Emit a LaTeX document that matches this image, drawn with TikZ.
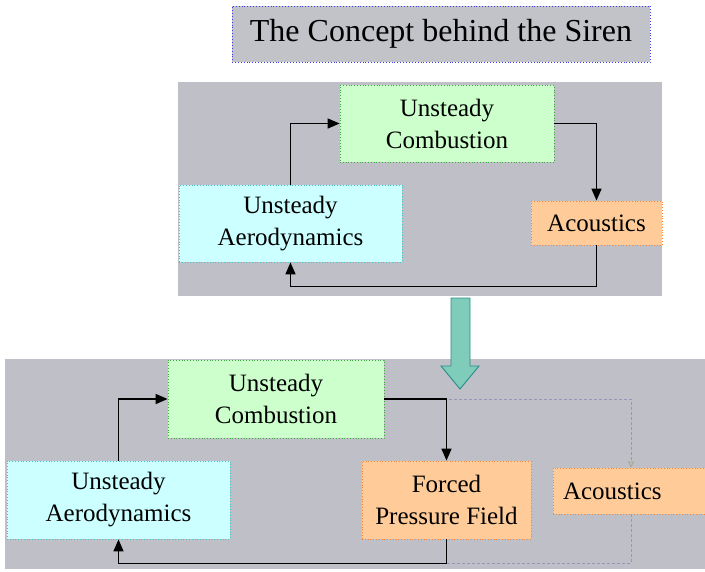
\documentclass[tikz,border=0pt]{standalone}
\usepackage{fontspec}
\setmainfont{Liberation Serif}
\usetikzlibrary{arrows.meta}
\definecolor{panelgray}{RGB}{191,191,199}
\definecolor{titlegray}{RGB}{194,194,201}
\definecolor{titleedge}{RGB}{60,60,240}
\definecolor{ccgreen}{RGB}{204,255,204}
\definecolor{greenedge}{RGB}{60,170,60}
\definecolor{cccyan}{RGB}{204,255,255}
\definecolor{cyanedge}{RGB}{60,200,200}
\definecolor{ccorange}{RGB}{255,204,153}
\definecolor{orangeedge}{RGB}{250,130,50}
\definecolor{dashblue}{RGB}{150,150,185}
\definecolor{tipgray}{RGB}{170,165,140}
\definecolor{arrowfill}{RGB}{128,204,186}
\definecolor{arrowedge}{RGB}{40,140,140}
\begin{document}
\begin{tikzpicture}[x=1pt,y=-1pt,
  panel/.style={fill=panelgray, draw=none, inner sep=0pt},
  box/.style={draw, line width=0.8pt, dotted, inner sep=0pt, align=center,
    font=\fontsize{25}{32}\selectfont},
  combbox/.style={box, fill=ccgreen, draw=greenedge},
  aerobox/.style={box, fill=cccyan, draw=cyanedge},
  orangebox/.style={box, fill=ccorange, draw=orangeedge},
  titlebox/.style={draw=titleedge, fill=titlegray, line width=0.9pt, dotted, inner sep=0pt,
    font=\fontsize{32}{38}\selectfont},
  flow/.style={draw=black, line width=1.6pt, -{Triangle[length=12pt,width=10pt]}},
  dashline/.style={draw=dashblue, line width=0.8pt, dash pattern=on 3pt off 2pt},
]
\useasboundingbox (0,0) rectangle (705,571);

% title
\node[titlebox, minimum width=418, minimum height=56] (title) at (441,34) {The Concept behind the Siren};

% top panel
\node[panel, minimum width=484, minimum height=214] (toppanel) at (420,189) {};
\node[combbox, minimum width=214, minimum height=77] (comb1) at (447,123.5) {Unsteady\\Combustion};
\node[aerobox, minimum width=223, minimum height=77] (aero1) at (290.5,223.5) {Unsteady\\Aerodynamics};
\node[orangebox, minimum width=131, minimum height=44] (acou1) at (596.5,223) {Acoustics};
\path (acou1.south) ++(0,41) coordinate (ret1);

\draw[flow] (aero1.north) |- (comb1.west);
\draw[flow] (comb1.east) -| (acou1.north);
\draw[flow] (acou1.south) -- (ret1) -| (aero1.south);

% bottom panel
\node[panel, minimum width=700, minimum height=210] (botpanel) at (355,464) {};

% big arrow
\draw[fill=arrowfill, draw=arrowedge, line width=0.9pt]
  (451,298) -- (470,298) -- (470,366) -- (479,366) -- (460,389) -- (441,366) -- (451,366) -- cycle;

\node[combbox, minimum width=216, minimum height=78] (comb2) at (276,399) {Unsteady\\Combustion};
\node[aerobox, minimum width=223, minimum height=78] (aero2) at (118.5,500) {Unsteady\\Aerodynamics};
\node[orangebox, minimum width=169, minimum height=78] (fpf) at (446.5,500) {Forced\\Pressure Field};
\node[orangebox, minimum height=46, text width=136pt, inner xsep=10pt, align=left] (acou2) at (631,491) {Acoustics};
\path (fpf.south) ++(0,24) coordinate (ret2);

\draw[dashline, -{Triangle[open,length=6pt,width=6pt,color=tipgray]}] (comb2.east) -| (acou2.north);
\draw[dashline] (acou2.south) |- (ret2);

\draw[flow] (aero2.north) |- (comb2.west);
\draw[flow] (comb2.east) -| (fpf.north);
\draw[flow] (fpf.south) -- (ret2) -| (aero2.south);
\end{tikzpicture}
\end{document}
